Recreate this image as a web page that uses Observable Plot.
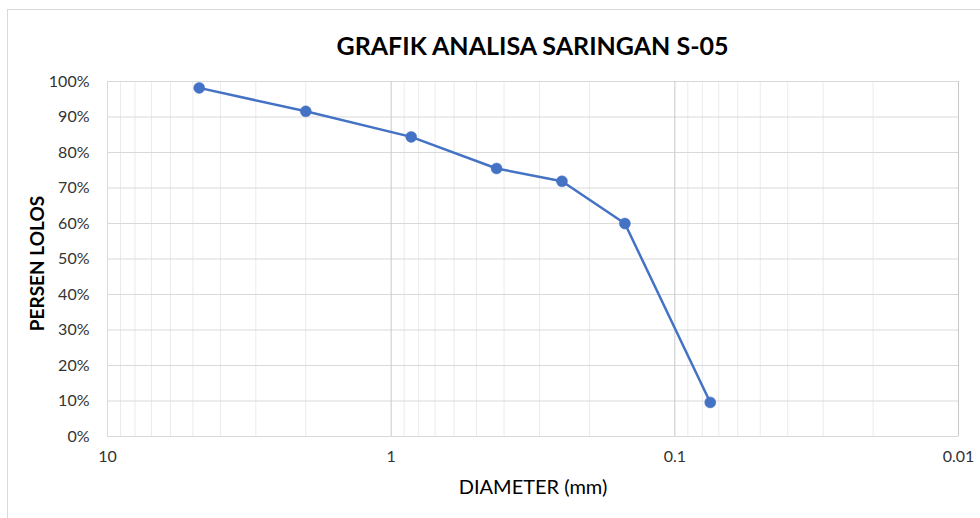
<!DOCTYPE html>
<html>
<head>
<meta charset="utf-8">
<script src="https://cdn.jsdelivr.net/npm/d3@7"></script>
<script src="https://cdn.jsdelivr.net/npm/@observablehq/plot@0.6"></script>
<style>
  html, body { margin: 0; padding: 0; background: #fff; }
  #wrap { position: relative; width: 980px; height: 518px; overflow: hidden; font-family: Lato, "Open Sans", sans-serif; }
  #frame { position: absolute; left: 7px; top: 9px; width: 1000px; height: 600px; border-left: 1px solid #d9d9d9; border-top: 1px solid #d9d9d9; }
  #title { position: absolute; left: 107px; width: 851px; top: 30px; line-height: 30px; text-align: center; font-weight: bold; font-size: 25px; color: #000; }
  #chart { position: absolute; left: 0; top: 0; }
</style>
</head>
<body>
<div id="wrap">
  <div id="frame"></div>
  <div id="chart"></div>
  <div id="title">GRAFIK ANALISA SARINGAN S-05</div>
</div>
<script>
const diameters = [4.75, 2.0, 0.85, 0.425, 0.25, 0.15, 0.075];
const percentPassing = [98.2, 91.6, 84.4, 75.5, 71.9, 60.0, 9.6];
const xTickValues = [10, 1, 0.1, 0.01];
const yTickValues = [0, 10, 20, 30, 40, 50, 60, 70, 80, 90, 100];

const data = diameters.map((d, i) => ({d, p: percentPassing[i]}));

// minor log gridlines (2..9 in each decade)
const minor = [];
[1, 0.1, 0.01].forEach(base => { for (let k = 2; k <= 9; k++) minor.push(+(base * k).toPrecision(3)); });

const chart = Plot.plot({
  width: 980,
  height: 518,
  marginLeft: 107,
  marginRight: 22,
  marginTop: 81,
  marginBottom: 82,
  style: { fontFamily: "Lato, 'Open Sans', sans-serif", fontSize: "16px", color: "#333", background: "transparent" },
  x: { type: "log", domain: [10, 0.01], label: null, ticks: xTickValues, tickFormat: d => String(d), tickSize: 0, tickPadding: 14 },
  y: { domain: [0, 100], label: null, ticks: yTickValues, tickFormat: d => d + "%", tickSize: 0, tickPadding: 18 },
  marks: [
    Plot.gridX(minor, { stroke: "#ebebeb", strokeOpacity: 1, strokeWidth: 1 }),
    Plot.gridY(yTickValues, { stroke: "#d9d9d9", strokeOpacity: 1, strokeWidth: 1 }),
    Plot.gridX([10], { stroke: "#d9d9d9", strokeOpacity: 1 }),
    Plot.gridX([1, 0.1, 0.01], { stroke: "#c8c8c8", strokeOpacity: 1 }),
    Plot.axisX(xTickValues, { tickSize: 0, tickPadding: 14, tickFormat: d => String(d), fill: "#333", fontSize: 16, label: null }),
    Plot.axisY(yTickValues, { tickSize: 0, tickPadding: 18, tickFormat: d => d + "%", fill: "#333", fontSize: 16, label: null }),
    Plot.line(data, { x: "d", y: "p", stroke: "#4472C4", strokeWidth: 2.5 }),
    Plot.dot(data, { x: "d", y: "p", r: 5.5, fill: "#4472C4", stroke: "#4472C4", strokeWidth: 0.5 }),
    Plot.text(["DIAMETER (mm)"], { frameAnchor: "bottom", dy: 57, text: d => d, fontSize: 20, fill: "#000" }),
    Plot.text(["PERSEN LOLOS"], { frameAnchor: "left", textAnchor: "middle", dx: -70, dy: 4.5, rotate: -90, text: d => d, fontSize: 19, fontWeight: "bold", fill: "#000" })
  ]
});
document.getElementById("chart").appendChild(chart);
</script>
</body>
</html>
